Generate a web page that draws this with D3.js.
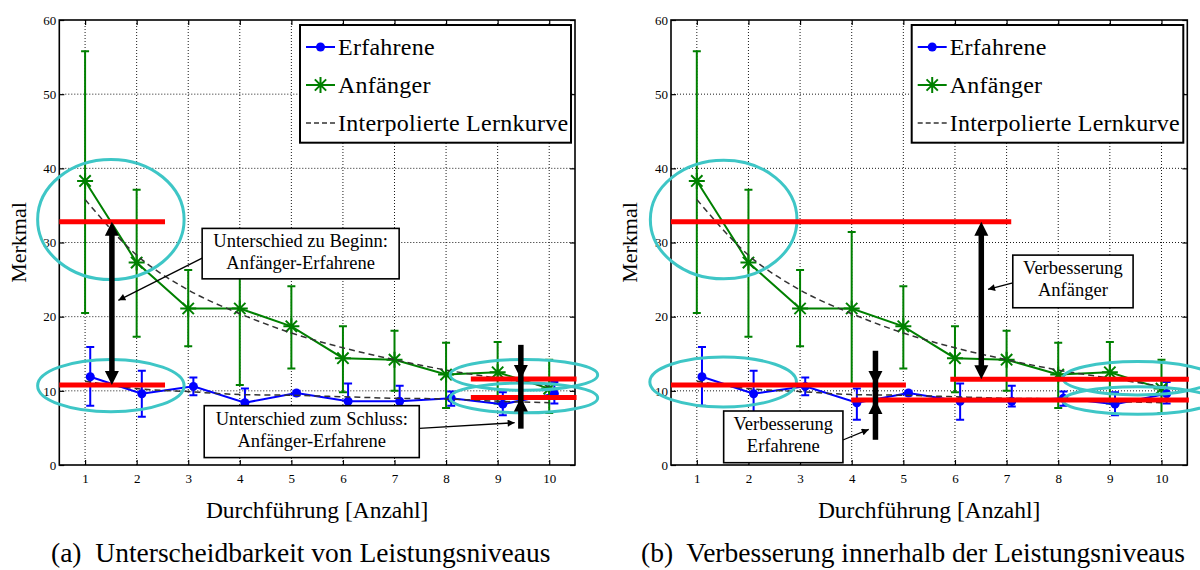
<!DOCTYPE html>
<html><head><meta charset="utf-8">
<script src="https://cdn.jsdelivr.net/npm/d3@7"></script>
<style>body{margin:0;background:#fff} svg{display:block}</style>
</head><body><svg id="fig" width="1200" height="570"></svg>
<script>
// Durchführungen (x) and measured feature values
const durchgang = [1, 2, 3, 4, 5, 6, 7, 8, 9, 10];
const anfaengerMittel = [38.3, 27.3, 21.1, 21.1, 18.7, 14.4, 14.2, 12.2, 12.5, 10.3];
const anfaengerMin    = [20.5, 17.3, 16.0, 10.8, 13.0,  9.8, 10.0,  7.7,  8.3,  7.0];
const anfaengerMax    = [55.8, 37.1, 26.3, 31.4, 24.1, 18.7, 18.1, 16.5, 16.6, 14.2];
const erfahreneMittel = [11.9,  9.6, 10.6,  8.4,  9.7,  8.6,  8.6,  9.0,  8.2,  9.6];
const erfahreneMin    = [ 8.0,  6.5,  9.4,  6.1,  9.4,  6.1,  7.9,  8.0,  6.7,  8.3];
const erfahreneMax    = [15.9, 12.7, 11.8, 10.3, 10.0, 11.0, 10.7,  9.9,  9.8, 11.2];
const kurveAnfaenger  = [35.8, 28.3, 23.6, 20.4, 17.8, 15.8, 14.2, 12.8, 11.7, 10.6];
const kurveErfahrene  = [11.3, 10.3,  9.9,  9.5,  9.4,  9.2,  9.0,  8.9,  8.6,  8.4];
const xTicks = [1, 2, 3, 4, 5, 6, 7, 8, 9, 10];
const yTicks = [0, 10, 20, 30, 40, 50, 60];
const legendLabels = ["Erfahrene", "Anfänger", "Interpolierte Lernkurve"];

// Annotation levels (in data units) for both panels
const niveauLinienA = [
  {x0: 0.5, x1: 2.55, y: 32.8}, {x0: 0.5, x1: 2.55, y: 10.8},
  {x0: 8.48, x1: 10.53, y: 11.6}, {x0: 8.48, x1: 10.53, y: 9.1}
];
const niveauLinienB = [
  {x0: 0.5, x1: 7.09, y: 32.8}, {x0: 0.5, x1: 5.05, y: 10.8},
  {x0: 5.91, x1: 10.53, y: 11.55}, {x0: 3.99, x1: 10.53, y: 8.75}
];
const ellipsenA = [
  {cx: 1.5, cy: 33.1, rx: 1.42, ry: 8.1}, {cx: 1.5, cy: 10.7, rx: 1.42, ry: 3.53},
  {cx: 9.51, cy: 12.15, rx: 1.43, ry: 2.07}, {cx: 9.51, cy: 9.05, rx: 1.43, ry: 2.02}
];
const ellipsenB = [
  {cx: 1.52, cy: 33.1, rx: 1.42, ry: 8.0}, {cx: 1.51, cy: 11.2, rx: 1.42, ry: 3.37},
  {cx: 9.54, cy: 11.7, rx: 1.45, ry: 2.25}, {cx: 9.54, cy: 8.7, rx: 1.45, ry: 1.86}
];
const pfeileA = [
  {x: 1.52, art: "doppelt", y0: 32.8, y1: 10.8},
  {x: 9.45, art: "innen", oben: 16.2, spitzeOben: 11.6, unten: 4.9, spitzeUnten: 9.1}
];
const pfeileB = [
  {x: 6.51, art: "doppelt", y0: 32.8, y1: 11.55},
  {x: 4.46, art: "innen", oben: 15.4, spitzeOben: 10.8, unten: 3.4, spitzeUnten: 8.75}
];
const boxenA = [
  {x0: 3.27, x1: 7.09, y0: 31.9, y1: 25.1, zeilen: ["Unterschied zu Beginn:", "Anfänger-Erfahrene"],
   von: [3.27, 27.9], nach: [1.645, 22.2]},
  {x0: 3.31, x1: 7.48, y0: 8.0, y1: 1.0, zeilen: ["Unterschied zum Schluss:", "Anfänger-Erfahrene"],
   von: [7.48, 4.95], nach: [9.33, 5.7]}
];
const boxenB = [
  {x0: 7.12, x1: 9.45, y0: 28.3, y1: 21.2, zeilen: ["Verbesserung", "Anfänger"],
   von: [7.12, 24.57], nach: [6.64, 23.68]},
  {x0: 1.52, x1: 3.83, y0: 7.28, y1: 0.31, zeilen: ["Verbesserung", "Erfahrene"],
   von: [3.83, 3.37], nach: [4.33, 4.8]}
];
const captions = ["(a)  Unterscheidbarkeit von Leistungsniveaus", "(b)  Verbesserung innerhalb der Leistungsniveaus"];

const FONT = "'Liberation Serif', 'DejaVu Serif', serif";
const GREEN = "#008000", BLUE = "#0000ff", RED = "#ff0000", CYAN = "#3ec6c6";

const svg = d3.select("#fig");
const defs = svg.append("defs");
defs.append("marker").attr("id", "thinHead").attr("viewBox", "0 0 10 10")
  .attr("refX", 10).attr("refY", 5).attr("markerWidth", 9).attr("markerHeight", 7)
  .attr("markerUnits", "userSpaceOnUse").attr("orient", "auto")
  .append("path").attr("d", "M0,0 L10,5 L0,10 Z").attr("fill", "#000");

function asterisk(g, cx, cy, r, color) {
  const d = r * Math.SQRT1_2;
  g.append("path")
    .attr("d", `M${cx - r},${cy}H${cx + r}M${cx},${cy - r}V${cy + r}` +
               `M${cx - d},${cy - d}L${cx + d},${cy + d}M${cx - d},${cy + d}L${cx + d},${cy - d}`)
    .attr("stroke", color).attr("stroke-width", 2).attr("fill", "none");
}

function drawPanel(cfg) {
  const x = d3.scaleLinear().domain([0.5, 10.5]).range([cfg.left, cfg.right]);
  const y = d3.scaleLinear().domain([0, 60]).range([465, 20]);
  const g = svg.append("g");

  // plot background
  g.append("rect").attr("x", cfg.left).attr("y", 20)
    .attr("width", cfg.right - cfg.left).attr("height", 445).attr("fill", "#fff");

  // dotted grid
  const grid = g.append("g").attr("stroke", "#000").attr("stroke-width", 0.9)
    .attr("stroke-dasharray", "1,2");
  xTicks.forEach(t => grid.append("line").attr("x1", x(t)).attr("x2", x(t)).attr("y1", 20).attr("y2", 465));
  yTicks.filter(t => t > 0 && t < 60).forEach(t =>
    grid.append("line").attr("x1", cfg.left).attr("x2", cfg.right).attr("y1", y(t)).attr("y2", y(t)));

  // axes with inward ticks on all sides
  const axB = d3.axisBottom(x).tickValues(xTicks).tickSize(-5).tickPadding(9).tickFormat(d3.format("d"));
  const axT = d3.axisTop(x).tickValues(xTicks).tickSize(-5).tickFormat("");
  const axL = d3.axisLeft(y).tickValues(yTicks).tickSize(-5).tickPadding(3).tickFormat(d3.format("d"));
  const axR = d3.axisRight(y).tickValues(yTicks).tickSize(-5).tickFormat("");
  [[axB, `translate(0,465)`], [axT, `translate(0,20)`], [axL, `translate(${cfg.left},0)`],
   [axR, `translate(${cfg.right},0)`]].forEach(([ax, tr]) => {
    const a = g.append("g").attr("transform", tr).call(ax);
    a.select(".domain").remove();
    a.selectAll(".tick line").attr("stroke", "#000").attr("stroke-width", 1.2);
    a.selectAll("text").attr("font-family", FONT).attr("font-size", 13).attr("fill", "#000");
  });
  g.append("rect").attr("x", cfg.left).attr("y", 20)
    .attr("width", cfg.right - cfg.left).attr("height", 445)
    .attr("fill", "none").attr("stroke", "#000").attr("stroke-width", 1.6);

  // error bars
  function errorBars(xs, lo, hi, color, off) {
    const eb = g.append("g").attr("stroke", color).attr("stroke-width", 2).attr("fill", "none");
    xs.forEach((d, i) => {
      const xx = x(d + off);
      eb.append("path").attr("d",
        `M${xx},${y(lo[i])}V${y(hi[i])}M${xx - 4},${y(lo[i])}H${xx + 4}M${xx - 4},${y(hi[i])}H${xx + 4}`);
    });
  }
  errorBars(durchgang, anfaengerMin, anfaengerMax, GREEN, 0);
  errorBars(durchgang, erfahreneMin, erfahreneMax, BLUE, 0.1);

  // series lines
  const line = d3.line();
  g.append("path").attr("d", line(durchgang.map((d, i) => [x(d), y(anfaengerMittel[i])])))
    .attr("stroke", GREEN).attr("stroke-width", 2).attr("fill", "none");
  g.append("path").attr("d", line(durchgang.map((d, i) => [x(d + 0.1), y(erfahreneMittel[i])])))
    .attr("stroke", BLUE).attr("stroke-width", 2).attr("fill", "none");
  durchgang.forEach((d, i) => asterisk(g, x(d), y(anfaengerMittel[i]), 8, GREEN));
  g.append("g").selectAll("circle").data(durchgang).join("circle")
    .attr("cx", d => x(d + 0.1)).attr("cy", (d, i) => y(erfahreneMittel[i])).attr("r", 4.5).attr("fill", BLUE);

  // interpolated learning curves
  const smooth = d3.line().curve(d3.curveMonotoneX);
  [kurveAnfaenger, kurveErfahrene].forEach(k =>
    g.append("path").attr("d", smooth(durchgang.map((d, i) => [x(d), y(k[i])])))
      .attr("stroke", "#333").attr("stroke-width", 1.5).attr("stroke-dasharray", "6,4").attr("fill", "none"));

  // cyan ellipses
  cfg.ellipsen.forEach(e => g.append("ellipse")
    .attr("cx", x(e.cx)).attr("cy", y(e.cy))
    .attr("rx", x(e.cx + e.rx) - x(e.cx)).attr("ry", y(e.cy - e.ry) - y(e.cy))
    .attr("fill", "none").attr("stroke", CYAN).attr("stroke-width", 3));

  // red level lines
  cfg.linien.forEach(l => g.append("line")
    .attr("x1", x(l.x0)).attr("x2", x(l.x1)).attr("y1", y(l.y)).attr("y2", y(l.y))
    .attr("stroke", RED).attr("stroke-width", 5));

  // thick black arrows
  function head(px, tipY, dir) { // dir: +1 points down, -1 points up
    g.append("path").attr("d", `M${px},${tipY}L${px - 7},${tipY - dir * 14}L${px + 7},${tipY - dir * 14}Z`)
      .attr("fill", "#000");
  }
  cfg.pfeile.forEach(p => {
    const px = x(p.x);
    if (p.art === "doppelt") {
      const a = y(p.y0), b = y(p.y1);
      g.append("line").attr("x1", px).attr("x2", px).attr("y1", a + 12).attr("y2", b - 12)
        .attr("stroke", "#000").attr("stroke-width", 5.5);
      head(px, a, -1); head(px, b, 1);
    } else {
      g.append("line").attr("x1", px).attr("x2", px).attr("y1", y(p.oben)).attr("y2", y(p.unten))
        .attr("stroke", "#000").attr("stroke-width", 5.5);
      head(px, y(p.spitzeOben), 1); head(px, y(p.spitzeUnten), -1);
    }
  });

  // text boxes with pointer arrows
  cfg.boxen.forEach(b => {
    g.append("line").attr("x1", x(b.von[0])).attr("y1", y(b.von[1]))
      .attr("x2", x(b.nach[0])).attr("y2", y(b.nach[1]))
      .attr("stroke", "#000").attr("stroke-width", 1.3).attr("marker-end", "url(#thinHead)");
    const bx = x(b.x0), by = y(b.y0), bw = x(b.x1) - x(b.x0), bh = y(b.y1) - y(b.y0);
    g.append("rect").attr("x", bx).attr("y", by).attr("width", bw).attr("height", bh)
      .attr("fill", "#fff").attr("stroke", "#000").attr("stroke-width", 1.6);
    b.zeilen.forEach((z, i) => g.append("text").attr("x", bx + bw / 2).attr("y", by + 19 + i * 22)
      .attr("text-anchor", "middle").attr("font-family", FONT).attr("font-size", 18.5).text(z));
  });

  // legend
  const lg = g.append("g");
  lg.append("rect").attr("x", cfg.legX).attr("y", 25).attr("width", cfg.legW).attr("height", 117.7)
    .attr("fill", "#fff").attr("stroke", "#000").attr("stroke-width", 2);
  const lx0 = cfg.legX + 6, lx1 = cfg.legX + 35, lmid = (lx0 + lx1) / 2;
  const rows = [47, 85, 123];
  lg.append("line").attr("x1", lx0).attr("x2", lx1).attr("y1", rows[0]).attr("y2", rows[0])
    .attr("stroke", BLUE).attr("stroke-width", 2);
  lg.append("circle").attr("cx", lmid).attr("cy", rows[0]).attr("r", 4.5).attr("fill", BLUE);
  lg.append("line").attr("x1", lx0).attr("x2", lx1).attr("y1", rows[1]).attr("y2", rows[1])
    .attr("stroke", GREEN).attr("stroke-width", 2);
  asterisk(lg, lmid, rows[1], 8, GREEN);
  lg.append("line").attr("x1", lx0).attr("x2", lx1).attr("y1", rows[2]).attr("y2", rows[2])
    .attr("stroke", "#333").attr("stroke-width", 1.5).attr("stroke-dasharray", "5,3");
  legendLabels.forEach((t, i) => lg.append("text").attr("x", lx1 + 3).attr("y", rows[i] + 7.5)
    .attr("font-family", FONT).attr("font-size", 24).attr("letter-spacing", 0.25).text(t));

  // axis titles
  const cx = (cfg.left + cfg.right) / 2;
  g.append("text").attr("x", cx).attr("y", 518).attr("text-anchor", "middle")
    .attr("font-family", FONT).attr("font-size", 23.5).text("Durchführung [Anzahl]");
  g.append("text").attr("transform", `translate(${cfg.ylabX},242.5) rotate(-90)`)
    .attr("text-anchor", "middle").attr("font-family", FONT).attr("font-size", 22).text("Merkmal");

  // caption
  g.append("text").attr("x", cfg.capX).attr("y", 562).attr("font-family", FONT)
    .attr("font-size", 27.5).attr("xml:space", "preserve").style("white-space", "pre").text(cfg.caption);
}

drawPanel({left: 59.3, right: 575, ylabX: 26, legX: 300, legW: 271, capX: 51,
  linien: niveauLinienA, ellipsen: ellipsenA, pfeile: pfeileA, boxen: boxenA, caption: captions[0]});
drawPanel({left: 671, right: 1187.3, ylabX: 637, legX: 911.7, legW: 271.6, capX: 641,
  linien: niveauLinienB, ellipsen: ellipsenB, pfeile: pfeileB, boxen: boxenB, caption: captions[1]});
</script>
</body></html>
